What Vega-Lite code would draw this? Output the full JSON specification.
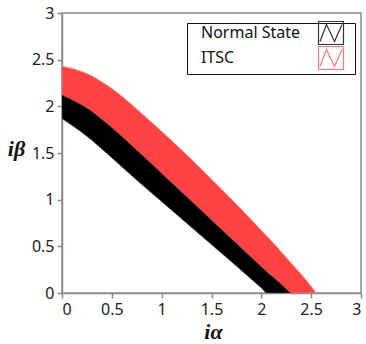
{
  "$schema": "https://vega.github.io/schema/vega-lite/v6.json",
  "width": 299,
  "height": 280,
  "autosize": {"type": "none"},
  "padding": {"left": 62, "top": 13, "right": 5, "bottom": 51},
  "background": "white",
  "config": {
    "view": {"stroke": "#8c8c8c", "strokeWidth": 1.5},
    "axis": {
      "grid": false,
      "tickSize": 5,
      "tickColor": "#8c8c8c",
      "tickWidth": 1.5,
      "domainColor": "#8c8c8c",
      "domainWidth": 1.5,
      "labelFont": "Noto Sans",
      "labelFontSize": 16,
      "labelColor": "#222222",
      "labelPadding": 3,
      "titleFont": "Liberation Serif",
      "titleFontStyle": "italic",
      "titleFontWeight": "bold",
      "titleFontSize": 22,
      "titleColor": "#111111"
    }
  },
  "data": {
    "values": [
      {"series": "Normal State", "x": 0, "lo": 1.87, "hi": 2.12},
      {"series": "Normal State", "x": 0.25, "lo": 1.68, "hi": 1.98},
      {"series": "Normal State", "x": 0.5, "lo": 1.45, "hi": 1.77},
      {"series": "Normal State", "x": 0.75, "lo": 1.21, "hi": 1.53},
      {"series": "Normal State", "x": 1.0, "lo": 0.98, "hi": 1.28},
      {"series": "Normal State", "x": 1.25, "lo": 0.75, "hi": 1.03},
      {"series": "Normal State", "x": 1.5, "lo": 0.52, "hi": 0.78},
      {"series": "Normal State", "x": 1.75, "lo": 0.29, "hi": 0.53},
      {"series": "Normal State", "x": 2.0, "lo": 0.055, "hi": 0.28},
      {"series": "Normal State", "x": 2.06, "lo": 0, "hi": 0.22},
      {"series": "Normal State", "x": 2.15, "lo": 0, "hi": 0.14},
      {"series": "Normal State", "x": 2.29, "lo": 0, "hi": 0},
      {"series": "ITSC", "x": 0, "lo": 2.12, "hi": 2.43},
      {"series": "ITSC", "x": 0.25, "lo": 1.98, "hi": 2.35},
      {"series": "ITSC", "x": 0.5, "lo": 1.77, "hi": 2.19},
      {"series": "ITSC", "x": 0.75, "lo": 1.53, "hi": 1.97},
      {"series": "ITSC", "x": 1.0, "lo": 1.28, "hi": 1.73},
      {"series": "ITSC", "x": 1.25, "lo": 1.03, "hi": 1.48},
      {"series": "ITSC", "x": 1.5, "lo": 0.78, "hi": 1.22},
      {"series": "ITSC", "x": 1.75, "lo": 0.53, "hi": 0.95},
      {"series": "ITSC", "x": 2.0, "lo": 0.28, "hi": 0.67},
      {"series": "ITSC", "x": 2.15, "lo": 0.14, "hi": 0.5},
      {"series": "ITSC", "x": 2.29, "lo": 0, "hi": 0.33},
      {"series": "ITSC", "x": 2.4, "lo": 0, "hi": 0.2},
      {"series": "ITSC", "x": 2.55, "lo": 0, "hi": 0}
    ]
  },
  "encoding": {
    "x": {
      "field": "x",
      "type": "quantitative",
      "scale": {"domain": [0, 3], "nice": false},
      "axis": {
        "values": [0, 0.5, 1, 1.5, 2, 2.5, 3],
        "format": "~g",
        "title": "iα",
        "titleX": 151,
        "titleY": 45,
        "titleBaseline": "alphabetic",
        "titleAlign": "center"
      }
    },
    "y": {
      "field": "hi",
      "type": "quantitative",
      "scale": {"domain": [0, 3], "nice": false},
      "axis": {
        "values": [0, 0.5, 1, 1.5, 2, 2.5, 3],
        "format": "~g",
        "title": "iβ",
        "titleAngle": 0,
        "titleX": -46,
        "titleY": 142,
        "titleAlign": "center",
        "titleBaseline": "alphabetic"
      }
    },
    "y2": {"field": "lo"},
    "fill": {
      "field": "series",
      "type": "nominal",
      "scale": {"domain": ["Normal State", "ITSC"], "range": ["#000000", "#ff4343"]},
      "legend": null
    },
    "stroke": {
      "field": "series",
      "type": "nominal",
      "sort": "descending",
      "scale": {"range": ["#333333", "#ff7a7a"]},
      "legend": {
        "orient": "none",
        "legendX": 125,
        "legendY": 10,
        "title": null,
        "padding": 2,
        "strokeColor": "#111111",
        "symbolSize": 4,
        "symbolStrokeWidth": 1.2,
        "symbolFillColor": "transparent",
        "symbolType": "M-1.5,0 M153.5,0 M121.5,-11.5 H146.5 V11.5 H121.5 Z M123,8.5 L129.5,-8.5 L137.5,8.5 L145,-8.5",
        "labelFont": "Noto Sans",
        "labelFontSize": 16,
        "labelColor": "#111111",
        "labelOffset": -4,
        "rowPadding": -3
      }
    }
  },
  "layer": [
    {
      "transform": [{"filter": "datum.series === 'ITSC'"}],
      "mark": {"type": "area", "interpolate": "monotone", "clip": true, "strokeWidth": 0.8}
    },
    {
      "transform": [{"filter": "datum.series === 'Normal State'"}],
      "mark": {"type": "area", "interpolate": "monotone", "clip": true, "strokeWidth": 0.8}
    }
  ]
}
